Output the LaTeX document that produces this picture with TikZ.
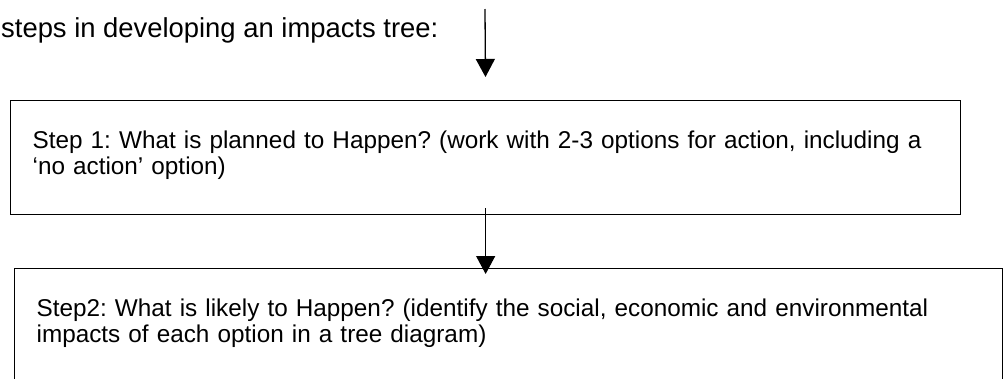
\documentclass[tikz,border=0pt]{standalone}
\usepackage{fontspec}
\setmainfont{Liberation Sans}
\frenchspacing
\usetikzlibrary{arrows.meta, positioning}
\tikzset{
  >={Triangle[length=18pt, width=19pt]},
  stepbox/.style={rectangle, draw=black, line width=1.3pt, anchor=north west, align=left,
                  inner xsep=22pt, inner ysep=30pt, text height=18pt,
                  font=\fontsize{24.3}{25.5}\selectfont},
  flow/.style={->, line width=1.3pt, draw=black},
  lbl/.style={font=\fontsize{27.4}{30}\selectfont, inner sep=0pt, anchor=base west},
}
\begin{document}
\begin{tikzpicture}[x=1pt, y=-1pt]
  \useasboundingbox (0,0) rectangle (1005,378);
  \clip (0,0) rectangle (1005,378);
  \node[lbl] (title) at (1,37) {steps in developing an impacts tree:};
  \coordinate (arrowtop) at (485,9);
  % the two steps
  \node[stepbox, text width=906pt, text depth=36pt] (step1) at (10,100)
    {Step 1: What is planned to Happen? (work with 2-3 options for action, including a\\
     ‘no action’ option)};
  \node[stepbox, text width=944pt, text depth=120pt] (step2) at (14,268)
    {Step2: What is likely to Happen? (identify the social, economic and environmental\\
     impacts of each option in a tree diagram)};
  \draw[flow, shorten >=23pt] (arrowtop) -- (step1.north);
  \draw[flow, shorten <=-7pt, shorten >=-6pt] (step1.south) -- (step1.south |- step2.north);
\end{tikzpicture}
\end{document}
